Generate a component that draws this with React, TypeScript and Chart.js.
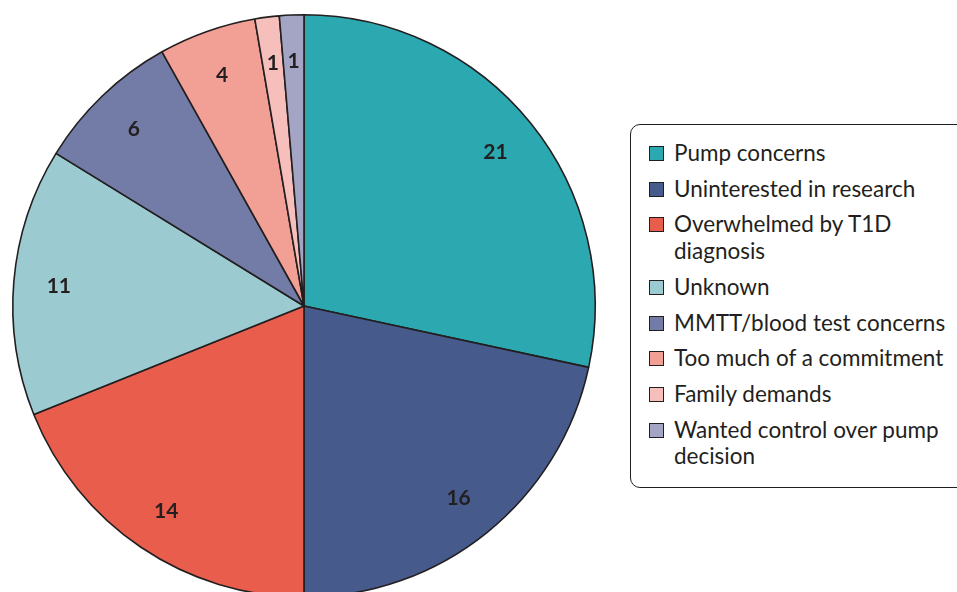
import React, { useEffect, useRef } from "react";
import { Chart, registerables } from "chart.js";

Chart.register(...registerables);

// Reasons given for declining participation
const reasons: (string | string[])[] = [
  "Pump concerns",
  "Uninterested in research",
  ["Overwhelmed by T1D", "diagnosis"],
  "Unknown",
  "MMTT/blood test concerns",
  "Too much of a commitment",
  "Family demands",
  ["Wanted control over pump", "decision"],
];
const counts: number[] = [21, 16, 14, 11, 6, 4, 1, 1];
const sliceColors: string[] = [
  "#2ca8b0",
  "#465a8b",
  "#e95d4d",
  "#9bcbd1",
  "#737ca6",
  "#f29f95",
  "#f6bfbb",
  "#a4a5c5",
];

const INK = "#231f20";
const FONT = "Lato, 'Open Sans', sans-serif";

// Writes each slice's count inside the slice, near the rim
const sliceValueLabels = {
  id: "sliceValueLabels",
  afterDatasetsDraw(chart: any) {
    const { ctx } = chart;
    const meta = chart.getDatasetMeta(0);
    const values = chart.data.datasets[0].data as number[];
    ctx.save();
    ctx.font = `bold 21px ${FONT}`;
    ctx.fillStyle = INK;
    ctx.textAlign = "center";
    ctx.textBaseline = "middle";
    meta.data.forEach((arc: any, i: number) => {
      const { x, y, startAngle, endAngle, outerRadius } = arc.getProps(
        ["x", "y", "startAngle", "endAngle", "outerRadius"],
        true
      );
      const mid = (startAngle + endAngle) / 2;
      const r = outerRadius * 0.845;
      ctx.fillText(String(values[i]), x + Math.cos(mid) * r, y + Math.sin(mid) * r + 1);
    });
    ctx.restore();
  },
};

function PieChart() {
  const canvasRef = useRef<HTMLCanvasElement | null>(null);

  useEffect(() => {
    if (!canvasRef.current) return;
    const chart = new Chart(canvasRef.current, {
      type: "pie",
      data: {
        labels: reasons,
        datasets: [
          {
            data: counts,
            backgroundColor: sliceColors,
            borderColor: INK,
            borderWidth: 1.6,
          },
        ],
      },
      options: {
        animation: false,
        responsive: false,
        maintainAspectRatio: false,
        layout: { padding: { left: 12, right: 361, top: 14, bottom: 2 } },
        plugins: {
          legend: { display: false },
          tooltip: { enabled: false },
        },
      },
      plugins: [sliceValueLabels],
    });
    return () => chart.destroy();
  }, []);

  return <canvas ref={canvasRef} width={957} height={600} style={{ display: "block" }} />;
}

function Legend() {
  return (
    <div
      style={{
        position: "absolute",
        left: 630,
        top: 124,
        width: 350,
        height: 364,
        boxSizing: "border-box",
        border: `1.5px solid ${INK}`,
        borderRadius: 10,
        background: "#fff",
        padding: "15px 0 0 18px",
        fontFamily: FONT,
        fontSize: 22.5,
        color: INK,
      }}
    >
      {reasons.map((label, i) => {
        const lines = Array.isArray(label) ? label : [label];
        return (
          <div key={i} style={{ display: "flex", alignItems: "flex-start", marginBottom: 8.9 }}>
            <span
              style={{
                width: 15,
                height: 15,
                marginTop: 6,
                marginRight: 10,
                flex: "0 0 auto",
                boxSizing: "border-box",
                border: `1.5px solid ${INK}`,
                background: sliceColors[i],
              }}
            />
            <span style={{ lineHeight: "26.8px", whiteSpace: "nowrap" }}>
              {lines.map((ln, j) => (
                <div key={j}>{ln}</div>
              ))}
            </span>
          </div>
        );
      })}
    </div>
  );
}

export default function App() {
  return (
    <div
      style={{
        position: "absolute",
        left: 0,
        top: 0,
        width: 957,
        height: 592,
        overflow: "hidden",
        background: "#fff",
      }}
    >
      <PieChart />
      <Legend />
    </div>
  );
}
